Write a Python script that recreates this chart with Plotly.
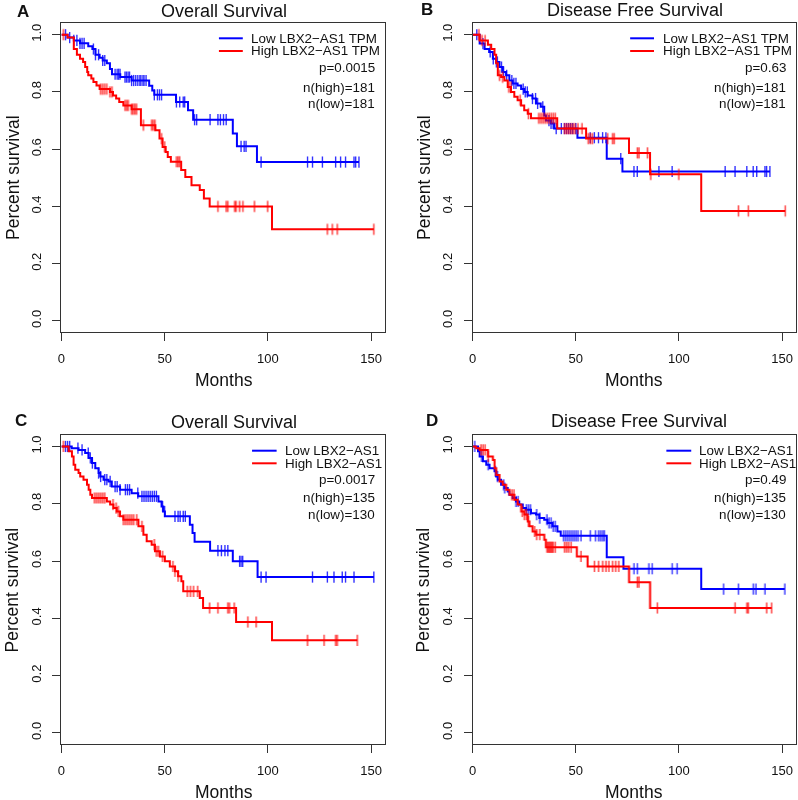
import bisect
import plotly.graph_objects as go

W, H = 798, 800
FONT = "Liberation Sans, Arial, Helvetica, sans-serif"
BLUE = "#0000FF"
RED = "#FF0000"

# ---------------- data ----------------
# Panel A: Overall Survival (TPM)
A_low_t = [0, 3, 6, 9, 13, 15, 16.5, 18.5, 20, 22, 23.5, 24.5, 28.5, 34, 42.5, 44, 45, 55.5, 61.3, 63.8, 83, 85, 94.7]
A_low_s = [1.0, 0.99, 0.98, 0.97, 0.96, 0.95, 0.93, 0.92, 0.91, 0.90, 0.88, 0.862, 0.852, 0.84, 0.822, 0.805, 0.79, 0.765, 0.736, 0.703, 0.655, 0.61, 0.555]
A_low_cens = [2, 4, 6, 7.5, 9, 10, 11, 15.5, 16.5, 18, 20, 21, 26, 27, 27.7, 28.4, 30.8, 31.5, 32.3, 33, 34, 35, 36, 37, 38, 38.5, 39.5, 40, 41, 45, 46.5, 47.5, 48.5,
              55.7, 57.3, 59, 59.7, 64.5, 65.5, 72, 75.8, 77, 78.5, 79.8, 87, 88.5, 89.4, 96.7, 119.2, 121.6, 126.4, 132.8, 135.2, 137.6, 141.7, 142.5, 144.1]
A_high_t = [0, 3, 6, 7.5, 9, 10.5, 11.5, 12.5, 13, 14.5, 15.5, 17, 18.5, 23.5, 25, 26.5, 28, 30, 34, 38.5, 45.5, 47.5, 49, 50.5, 51.5, 53, 58, 60, 63, 67, 69, 71.8, 102]
A_high_s = [1.0, 0.99, 0.95, 0.93, 0.916, 0.905, 0.887, 0.87, 0.858, 0.847, 0.835, 0.823, 0.81, 0.80, 0.788, 0.777, 0.765, 0.753, 0.74, 0.684, 0.666, 0.637, 0.608, 0.59, 0.573, 0.556, 0.527, 0.503, 0.474, 0.457, 0.428, 0.40, 0.32]
A_high_cens = [1, 19, 20, 21, 22, 23.5, 24.5, 30.8, 31.6, 32.4, 34, 34.8, 35.6, 36.4, 39.7, 43.7, 44.5, 45.3, 48.5, 50, 55.7, 56.5, 57.3,
               75.8, 79.8, 80.6, 83.9, 84.6, 86.3, 87.9, 93.5, 99.9, 128.8, 131.2, 133.6, 151.3]

# Panel B: Disease Free Survival (TPM)
B_low_t = [0, 3.4, 5.8, 8, 9.8, 11.4, 13, 14.6, 16.2, 17.8, 19.4, 21.8, 23.5, 25, 26.7, 29, 30.7, 33, 34.7, 35.5, 38, 39.5, 50.8, 65, 72.6]
B_low_s = [1.0, 0.969, 0.95, 0.94, 0.916, 0.905, 0.887, 0.87, 0.858, 0.84, 0.83, 0.823, 0.81, 0.80, 0.788, 0.777, 0.76, 0.748, 0.718, 0.70, 0.69, 0.672, 0.64, 0.567, 0.522]
B_low_cens = [2, 5, 8.5, 10, 11.5, 12, 14, 15, 16.5, 19, 20, 21, 24.5, 25.5, 26.5, 29, 30.5, 31.5, 34, 37, 38, 39, 40.5, 43, 44.5, 45.5, 46.5, 47.5, 48.5, 50,
              57, 59, 61, 63, 64.6, 71.8, 78.2, 79.8, 90.3, 96.7, 122.4, 127.2, 132.9, 136, 137.7, 141.7, 142.5, 144.1]
B_high_t = [0, 3.4, 7.4, 9, 10.6, 11.4, 12.2, 13.8, 15.4, 17, 18.6, 20.2, 21.8, 23.5, 25, 26.7, 28.3, 41, 55, 75.8, 86, 110.8]
B_high_s = [1.0, 0.98, 0.965, 0.95, 0.93, 0.90, 0.858, 0.852, 0.84, 0.817, 0.80, 0.783, 0.771, 0.753, 0.736, 0.724, 0.708, 0.672, 0.637, 0.587, 0.512, 0.384]
B_high_cens = [3, 4.5, 6, 13, 14.5, 17.5, 18.5, 23, 27, 32, 33, 34, 35, 36, 37, 38, 39, 40, 44.5, 45.5, 46.5, 47.5, 48.5, 49.5, 51, 53, 56, 57, 58,
               65.4, 67.8, 68.6, 79.8, 80.6, 84.7, 86.3, 99.9, 128.8, 133.6, 151.5]

# Panel C: Overall Survival
C_low_t = [0, 5, 8.3, 11.5, 13.2, 14.8, 16.4, 18, 18.8, 20.4, 22.8, 24.4, 28.4, 34, 37.2, 47, 48.5, 49.3, 50.1, 62.2, 63.5, 64.5, 72, 83, 95]
C_low_s = [1.0, 0.994, 0.988, 0.977, 0.96, 0.942, 0.924, 0.907, 0.895, 0.884, 0.878, 0.86, 0.849, 0.837, 0.826, 0.808, 0.79, 0.773, 0.756, 0.727, 0.698, 0.667, 0.636, 0.599, 0.544]
C_low_cens = [2, 3, 4, 8, 10, 13, 14, 15, 18, 19, 21, 22, 23.6, 26, 27, 28.4, 31, 32, 33, 37, 39, 40, 41, 42, 43, 44, 45, 46, 49, 50, 55, 56.5, 57.5, 59, 60,
              75.8, 77.5, 79.2, 80.6, 86.3, 87, 87.8, 96.7, 99.1, 121.6, 128.8, 132, 136, 137.6, 141.7, 151.3]
C_high_t = [0, 3.5, 5.1, 5.9, 6.7, 8.3, 9.1, 10.7, 12.4, 13.2, 14, 14.8, 22, 23.6, 25.2, 26.8, 28.4, 30, 37.3, 39.7, 41.3, 43.7, 45.3, 47.7, 50.1, 52.5, 55, 56.5, 58.1, 59, 67, 68.6, 84.6, 102]
C_high_s = [1.0, 0.983, 0.965, 0.936, 0.919, 0.907, 0.895, 0.884, 0.866, 0.849, 0.831, 0.82, 0.808, 0.797, 0.785, 0.773, 0.756, 0.744, 0.721, 0.692, 0.669, 0.657, 0.634, 0.616, 0.599, 0.581, 0.564, 0.547, 0.529, 0.494, 0.471, 0.436, 0.387, 0.323]
C_high_cens = [1, 16, 17, 18, 19, 20, 21, 25, 26.5, 27.6, 30, 31, 32, 33, 34, 35, 36.5, 39, 45, 46, 47, 49, 54, 55, 56.5, 61, 62.5, 64, 66,
               71.8, 75.8, 80.6, 81.4, 83.7, 90.3, 94.3, 119.2, 127.2, 132.8, 133.6, 143.3]

# Panel D: Disease Free Survival
D_low_t = [0, 2.6, 3.4, 5, 6.6, 8.2, 10.6, 11.4, 12.2, 13.8, 15.4, 17, 17.8, 19.4, 21, 22.6, 24.3, 25.9, 28.3, 30.7, 32.3, 34.7, 36.3, 38.7, 41.1, 42.7, 65, 73.1, 110.8]
D_low_s = [1.0, 0.983, 0.965, 0.948, 0.936, 0.924, 0.913, 0.895, 0.884, 0.866, 0.855, 0.843, 0.831, 0.82, 0.808, 0.797, 0.785, 0.779, 0.767, 0.762, 0.75, 0.744, 0.733, 0.721, 0.703, 0.688, 0.613, 0.573, 0.502]
D_low_cens = [1, 4.3, 7.5, 11, 12, 15, 15.5, 21, 22, 26, 27, 28, 31, 32.5, 36, 37, 38, 39, 40, 44, 45, 46, 47, 48, 49, 50, 51, 52.5, 57, 59.5, 61, 62, 63, 63.8,
              78.2, 79.8, 85.4, 87, 96.7, 99.1, 121.6, 128.8, 136, 137.3, 141.7, 151.3]
D_high_t = [0, 1.6, 3.4, 7.4, 9.8, 10.6, 11.4, 13, 14.6, 16.2, 17.8, 20.2, 21.8, 23.5, 25, 26.7, 27.5, 29, 30.7, 34.7, 35.5, 50.5, 55.7, 75.8, 86]
D_high_s = [1.0, 0.994, 0.988, 0.965, 0.953, 0.924, 0.9, 0.878, 0.866, 0.849, 0.831, 0.814, 0.797, 0.773, 0.762, 0.738, 0.721, 0.703, 0.692, 0.674, 0.648, 0.616, 0.581, 0.526, 0.436]
D_high_cens = [4, 5, 6, 7.5, 19, 20, 24, 25, 26, 27, 30, 31, 32.5, 36, 36.5, 37, 37.5, 38, 38.5, 39, 40, 44.5, 45.5, 46.5, 47.7, 52.5, 59, 61, 63, 64.6, 66,
               67.8, 69.3, 70.8, 79.8, 80.6, 89.5, 127.2, 132.9, 133.6, 142.5, 144.9]

panel_letters = ["A", "B", "C", "D"]
panel_titles = ["Overall Survival", "Disease Free Survival", "Overall Survival", "Disease Free Survival"]
low_labels = ["Low LBX2\u2212AS1 TPM", "Low LBX2\u2212AS1 TPM", "Low LBX2\u2212AS1", "Low LBX2\u2212AS1"]
high_labels = ["High LBX2\u2212AS1 TPM", "High LBX2\u2212AS1 TPM", "High LBX2\u2212AS1", "High LBX2\u2212AS1"]
p_values = ["p=0.0015", "p=0.63", "p=0.0017", "p=0.49"]
n_high = [181, 181, 135, 135]
n_low = [181, 181, 130, 130]
x_ticks = [0, 50, 100, 150]
y_ticks = [0.0, 0.2, 0.4, 0.6, 0.8, 1.0]

curves = [
    (A_low_t, A_low_s, A_low_cens, A_high_t, A_high_s, A_high_cens),
    (B_low_t, B_low_s, B_low_cens, B_high_t, B_high_s, B_high_cens),
    (C_low_t, C_low_s, C_low_cens, C_high_t, C_high_s, C_high_cens),
    (D_low_t, D_low_s, D_low_cens, D_high_t, D_high_s, D_high_cens),
]

# ---------------- layout helpers (pixels -> paper) ----------------
def fx(px):
    return px / W

def fy(py):
    return 1 - py / H

# plot boxes in pixels: (left, right, top, bottom)
boxes = [
    (57.7, 382.7, 23.3, 332.3),
    (471.0, 795.7, 23.3, 332.3),
    (57.7, 382.7, 435.0, 744.3),
    (471.0, 795.7, 435.0, 744.3),
]
title_pos = [(221, 11), (634, 10), (231, 421.5), (638, 420.5)]
letter_pos = [(19, 11), (425, 10), (17, 420), (430, 420)]
ylab_pos = [(8.5, 177.5), (421.5, 177.5), (8.5, 590), (421.5, 590)]
xlab_pos = [(221, 380), (633, 380), (221, 791.5), (633, 791.5)]
# legend: (line x0, line x1, text x, row1 y, row2 y, stats right x, p y, nh y, nl y)
legend_pos = [
    (216, 240, 246.5, 38.3, 51.0, 374.5, 67.7, 87.3, 103.3),
    (629.3, 653.3, 660, 38.3, 51.0, 788, 67.7, 87.3, 103.3),
    (249.3, 274, 280, 450.7, 463.3, 374.5, 479.3, 497.7, 514.3),
    (665.7, 690.7, 696.7, 450.7, 463.3, 788, 479.3, 497.7, 514.3),
]


def surv_at(ts, ss, t):
    i = bisect.bisect_right(ts, t) - 1
    return ss[max(i, 0)]


fig = go.Figure()
annotations = []
shapes = []

for k in range(4):
    sfx = "" if k == 0 else str(k + 1)
    xa, ya = "x" + sfx, "y" + sfx
    lt, ls, lc, ht, hs, hc = curves[k]
    for ts, ss, cs, col in ((lt, ls, lc, BLUE), (ht, hs, hc, RED)):
        end = max(max(cs), ts[-1])
        fig.add_trace(go.Scatter(
            x=ts + [end], y=ss + [ss[-1]], mode="lines",
            line=dict(color=col, width=2, shape="hv"),
            xaxis=xa, yaxis=ya, showlegend=False, hoverinfo="skip"))
        fig.add_trace(go.Scatter(
            x=cs, y=[surv_at(ts, ss, c) for c in cs], mode="markers",
            marker=dict(symbol="line-ns-open", size=8, color=col,
                        line=dict(color=col, width=1.4)),
            opacity=0.8,
            xaxis=xa, yaxis=ya, showlegend=False, hoverinfo="skip"))

    l, r, t, b = boxes[k]
    axis_common = dict(showline=True, linecolor="#333333", linewidth=1, mirror=True,
                       showgrid=False, zeroline=False, ticks="outside", ticklen=8,
                       tickwidth=1, tickcolor="#333333",
                       tickfont=dict(family=FONT, size=13, color="#111111"))
    fig.layout["xaxis" + sfx] = dict(
        domain=[fx(l), fx(r)], anchor=ya, range=[0, 156.6],
        tickvals=x_ticks, ticktext=[str(v) for v in x_ticks],
        ticklabelstandoff=6, **axis_common)
    fig.layout["yaxis" + sfx] = dict(
        domain=[fy(b), fy(t)], anchor=xa, range=[-0.04, 1.04],
        tickvals=y_ticks, ticktext=["%.1f" % v for v in y_ticks],
        tickangle=-90, ticklabelstandoff=6, **axis_common)

    annotations.append(dict(text=panel_titles[k], x=fx(title_pos[k][0]), y=fy(title_pos[k][1]),
                            xref="paper", yref="paper", showarrow=False,
                            xanchor="center", yanchor="middle",
                            font=dict(family=FONT, size=18, color="#111111")))
    annotations.append(dict(text="<b>%s</b>" % panel_letters[k], x=fx(letter_pos[k][0]), y=fy(letter_pos[k][1]),
                            xref="paper", yref="paper", showarrow=False,
                            xanchor="center", yanchor="middle",
                            font=dict(family=FONT, size=17, color="#111111")))
    annotations.append(dict(text="Percent survival", x=fx(ylab_pos[k][0]), y=fy(ylab_pos[k][1]),
                            xref="paper", yref="paper", showarrow=False, textangle=-90,
                            xanchor="center", yanchor="middle",
                            font=dict(family=FONT, size=17.5, color="#111111")))
    annotations.append(dict(text="Months", x=fx(xlab_pos[k][0]), y=fy(xlab_pos[k][1]),
                            xref="paper", yref="paper", showarrow=False,
                            xanchor="center", yanchor="middle",
                            font=dict(family=FONT, size=17.5, color="#111111")))

    lx0, lx1, tx, r1, r2, sx, py_, nhy, nly = legend_pos[k]
    for ry, col, lab in ((r1, BLUE, low_labels[k]), (r2, RED, high_labels[k])):
        shapes.append(dict(type="line", xref="paper", yref="paper",
                           x0=fx(lx0), x1=fx(lx1), y0=fy(ry), y1=fy(ry),
                           line=dict(color=col, width=2)))
        annotations.append(dict(text=lab, x=fx(tx), y=fy(ry), xref="paper", yref="paper",
                                showarrow=False, xanchor="left", yanchor="middle",
                                font=dict(family=FONT, size=13.4, color="#111111")))
    for yy, txt in ((py_, p_values[k]), (nhy, "n(high)=%d" % n_high[k]), (nly, "n(low)=%d" % n_low[k])):
        annotations.append(dict(text=txt, x=fx(sx), y=fy(yy), xref="paper", yref="paper",
                                showarrow=False, xanchor="right", yanchor="middle",
                                font=dict(family=FONT, size=13.4, color="#111111")))

fig.update_layout(
    width=W, height=H,
    margin=dict(l=0, r=0, t=0, b=0),
    paper_bgcolor="white", plot_bgcolor="white",
    annotations=annotations, shapes=shapes,
    font=dict(family=FONT),
)

fig.write_html("out.html",
               config={"displayModeBar": False},
               post_script="document.body.style.margin='0';document.body.style.padding='0';"
                           "document.body.style.overflow='hidden';")
